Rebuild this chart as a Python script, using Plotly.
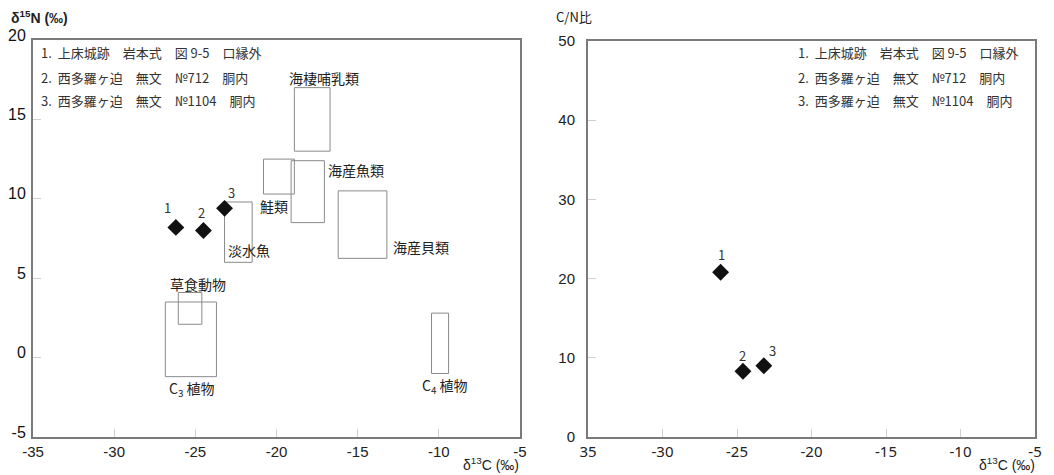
import plotly.graph_objects as go

# ---------------- data ----------------
sample_ids = ["1", "2", "3"]
d13c = [-26.2, -24.5, -23.2]
d15n = [8.2, 8.0, 9.4]
cn_d13c = [-26.1, -24.6, -23.2]
cn_ratio = [20.8, 8.3, 9.0]

legend_rows = [
    "1.  上床城跡　岩本式　図 9-5　口縁外",
    "2.  西多羅ヶ迫　無文　№712　胴内",
    "3.  西多羅ヶ迫　無文　№1104　胴内",
]

box_names = ["海棲哺乳類", "鮭類", "海産魚類", "淡水魚", "海産貝類", "草食動物", "C<sub>3</sub> 植物", "C<sub>4</sub> 植物"]
box_x0 = [-18.9, -20.8, -19.1, -23.2, -16.2, -26.05, -26.85, -10.45]
box_x1 = [-16.7, -18.9, -17.05, -21.5, -13.2, -24.6, -23.7, -9.4]
box_y0 = [13.0, 10.3, 8.5, 6.0, 6.25, 2.1, -1.2, -1.0]
box_y1 = [17.0, 12.5, 12.4, 9.8, 10.5, 4.1, 3.5, 2.8]

left_xticks = [-35, -30, -25, -20, -15, -10, -5]
left_xticktext = ["-35", "-30", "-25", "-20", "-15", "-10", "-5"]
left_yticks = [-5, 0, 5, 10, 15, 20]
left_yticktext = ["-5", "0", "5", "10", "15", "20"]
right_xticks = [-35, -30, -25, -20, -15, -10, -5]
right_xticktext = ["35", "-30", "-25", "-20", "-15", "-10", "-5"]
right_yticks = [0, 10, 20, 30, 40, 50]

# ---------------- styling / layout ----------------
JP = "Noto Sans CJK JP"
SANS = "Liberation Sans"
AXIS_COL = "#7a7a7a"
BOX_COL = "#8a8a8a"
TXT = "#222222"

W, H = 1054, 475
def px_x(p):
    return p / W
def px_y(p):
    return 1 - p / H

fig = go.Figure()

fig.add_trace(go.Scatter(
    x=d13c, y=d15n, mode="markers", xaxis="x", yaxis="y",
    marker=dict(symbol="diamond", size=13, color="#111111", line=dict(width=0)),
    showlegend=False, hoverinfo="skip"))
fig.add_trace(go.Scatter(
    x=cn_d13c, y=cn_ratio, mode="markers", xaxis="x2", yaxis="y2",
    marker=dict(symbol="diamond", size=13, color="#111111", line=dict(width=0)),
    showlegend=False, hoverinfo="skip"))

shapes = []
for x0, x1, y0, y1 in zip(box_x0, box_x1, box_y0, box_y1):
    shapes.append(dict(type="rect", xref="x", yref="y", x0=x0, x1=x1, y0=y0, y1=y1,
                       line=dict(color=BOX_COL, width=1), fillcolor="rgba(0,0,0,0)", layer="below"))

annotations = []
# box labels: (x, y, anchor)
box_label_pos = [(-17.05, 17.6, "center"), (-20.16, 9.55, "center"), (-16.95, 11.8, "left"),
                 (-21.68, 6.78, "center"), (-12.94, 6.98, "left"), (-24.86, 4.63, "center"),
                 (-25.2, -2.0, "center"), (-9.62, -1.79, "center")]
for name, (lx, ly, anc) in zip(box_names, box_label_pos):
    annotations.append(dict(x=lx, y=ly, xref="x", yref="y", text=name, showarrow=False,
                            xanchor=anc, yanchor="middle",
                            font=dict(family=JP, size=14, color=TXT)))

# number labels near points
left_offsets = [(-8, 20), (-2, 18), (7, 16)]
for sid, xv, yv, (dx, dy) in zip(sample_ids, d13c, d15n, left_offsets):
    annotations.append(dict(x=xv, y=yv, xref="x", yref="y", text=sid, showarrow=False,
                            xshift=dx, yshift=dy, font=dict(family=JP, size=13, color="#333333")))
right_offsets = [(1, 18), (0, 16), (9, 15)]
for sid, xv, yv, (dx, dy) in zip(sample_ids, cn_d13c, cn_ratio, right_offsets):
    annotations.append(dict(x=xv, y=yv, xref="x2", yref="y2", text=sid, showarrow=False,
                            xshift=dx, yshift=dy, font=dict(family=JP, size=13, color="#333333")))

# legends (text blocks)
row_y = [53, 77, 100]
for txt, ry in zip(legend_rows, row_y):
    annotations.append(dict(x=px_x(39), y=px_y(ry), xref="paper", yref="paper", text=txt,
                            showarrow=False, xanchor="left", yanchor="middle",
                            font=dict(family=JP, size=13, color="#333333")))
    annotations.append(dict(x=px_x(796), y=px_y(ry), xref="paper", yref="paper", text=txt,
                            showarrow=False, xanchor="left", yanchor="middle",
                            font=dict(family=JP, size=13, color="#333333")))

# axis titles
annotations.append(dict(x=px_x(9), y=px_y(17), xref="paper", yref="paper",
                        text="<b>δ<sup>15</sup>N (‰)</b>", showarrow=False, xanchor="left", yanchor="middle",
                        font=dict(family=SANS, size=14, color=TXT)))
annotations.append(dict(x=px_x(521), y=px_y(464), xref="paper", yref="paper",
                        text="δ<sup>13</sup>C (‰)", showarrow=False, xanchor="right", yanchor="middle",
                        font=dict(family=SANS, size=14, color=TXT)))
annotations.append(dict(x=px_x(554), y=px_y(17), xref="paper", yref="paper",
                        text="C/N比", showarrow=False, xanchor="left", yanchor="middle",
                        font=dict(family=JP, size=13, color=TXT)))
annotations.append(dict(x=px_x(1037), y=px_y(464), xref="paper", yref="paper",
                        text="δ<sup>13</sup>C (‰)", showarrow=False, xanchor="right", yanchor="middle",
                        font=dict(family=SANS, size=14, color=TXT)))

axis_common = dict(showline=True, mirror=True, linecolor=AXIS_COL, linewidth=2,
                   showgrid=False, zeroline=False, ticks="inside", ticklen=8,
                   tickcolor="#d0d0d0", tickwidth=1, automargin=False)

fig.update_layout(
    width=W, height=H,
    margin=dict(l=0, r=0, t=0, b=0),
    paper_bgcolor="white", plot_bgcolor="white",
    showlegend=False,
    shapes=shapes, annotations=annotations,
    xaxis=dict(domain=[px_x(33), px_x(520)], range=[-35, -5], tickvals=left_xticks,
               ticktext=left_xticktext,
               tickfont=dict(family=SANS, size=15, color=TXT), anchor="y", **axis_common),
    yaxis=dict(domain=[px_y(437), px_y(40)], range=[-5, 20], tickvals=left_yticks,
               ticktext=left_yticktext,
               tickfont=dict(family=SANS, size=16, color="#111111"), anchor="x",
               ticklabelstandoff=2, ticklabelshift=-5, **axis_common),
    xaxis2=dict(domain=[px_x(588), px_x(1035)], range=[-35, -5], tickvals=right_xticks,
                ticktext=right_xticktext, tickfont=dict(family="Noto Sans", size=15, color=TXT),
                anchor="y2", **axis_common),
    yaxis2=dict(domain=[px_y(437), px_y(41)], range=[0, 50], tickvals=right_yticks,
                tickfont=dict(family=SANS, size=15, color=TXT), anchor="x2",
                ticklabelstandoff=8, **axis_common),
)

fig.write_html("out.html", config={"displayModeBar": False},
               post_script="document.body.style.margin='0';document.body.style.overflow='hidden';")
